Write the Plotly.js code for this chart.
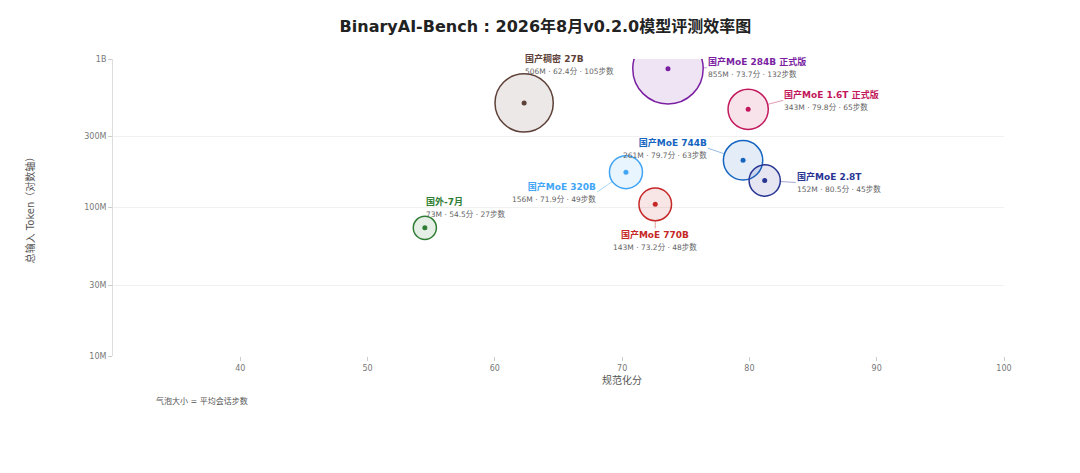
<!DOCTYPE html>
<html>
<head>
<meta charset="utf-8">
<script src="https://cdn.plot.ly/plotly-3.0.1.min.js"></script>
<style>
  html, body { margin: 0; padding: 0; background: #fff; }
  #chart { width: 1080px; height: 473px; }
</style>
</head>
<body>
<div id="chart"></div>
<script>
/** @type {typeof import("plotly.js-dist-min")} */
const Plotly = window.Plotly;

const names = ["国产稠密 27B", "国产MoE 284B 正式版", "国产MoE 1.6T 正式版", "国产MoE 744B",
               "国产MoE 2.8T", "国产MoE 320B", "国产MoE 770B", "国外-7月"];
// values printed in the labels
const scores = [62.4, 73.7, 79.8, 79.7, 80.5, 71.9, 73.2, 54.5];
const tokensM = [506, 855, 343, 261, 152, 156, 143, 73];
const steps = [105, 132, 65, 63, 45, 49, 48, 27];
// where the bubbles are drawn (nudged apart in the original chart)
const plotScore = [62.3, 73.6, 79.9, 79.5, 81.2, 70.3, 72.6, 54.5];
const plotTokensM = [506, 860, 458, 208, 152, 173, 105, 73];
const colors = ["#5d4037", "#7b1fa2", "#c2185b", "#1565c0", "#283593", "#42a5f5", "#c62828", "#2e7d32"];

const yTickVals = [1e7, 3e7, 1e8, 3e8, 1e9];
const yTickText = ["10M", "30M", "100M", "300M", "1B"];
const xTickVals = [40, 50, 60, 70, 80, 90, 100];

// label placement (pixel offsets from bubble centre)
const labelPos = [
    { ax: 0,   ay: -26, xanchor: "left",   yanchor: "bottom", align: "left",   line: false },
    { ax: 39,  ay: -1,  xanchor: "left",   yanchor: "middle", align: "left",   line: true },
    { ax: 35,  ay: -9,  xanchor: "left",   yanchor: "middle", align: "left",   line: true },
    { ax: -35, ay: -12, xanchor: "right",  yanchor: "middle", align: "right",  line: true },
    { ax: 31,  ay: 2,   xanchor: "left",   yanchor: "middle", align: "left",   line: true },
    { ax: -29, ay: 20,  xanchor: "right",  yanchor: "middle", align: "right",  line: true },
    { ax: 0,   ay: 24,  xanchor: "center", yanchor: "top",    align: "center", line: true },
    { ax: 0,   ay: -8,  xanchor: "left",   yanchor: "bottom", align: "left",   line: false }
];

const plotTokens = plotTokensM.map(t => t * 1e6);
const sizes = steps.map(s => 11 + 0.45 * s);

const FONT = "DejaVu Sans, Noto Sans CJK SC, sans-serif";

function hexToRgba(hex, a) {
    const r = parseInt(hex.slice(1, 3), 16);
    const g = parseInt(hex.slice(3, 5), 16);
    const b = parseInt(hex.slice(5, 7), 16);
    return `rgba(${r}, ${g}, ${b}, ${a})`;
}

const traceBubbles = {
    x: plotScore,
    y: plotTokens,
    mode: "markers",
    type: "scatter",
    hoverinfo: "skip",
    marker: {
        size: sizes,
        sizemode: "diameter",
        opacity: 1,
        color: colors.map(c => hexToRgba(c, 0.12)),
        line: { color: colors, width: 1.5 }
    },
    showlegend: false
};

const traceDots = {
    x: plotScore,
    y: plotTokens,
    mode: "markers",
    type: "scatter",
    hoverinfo: "skip",
    marker: { size: 5, color: colors, opacity: 1 },
    showlegend: false
};

const annotations = names.map((n, i) => {
    const p = labelPos[i];
    return {
        x: plotScore[i],
        y: Math.log10(plotTokens[i]),
        xref: "x",
        yref: "y",
        text: `<b>${n}</b><br><span style="font-size:7.5px;color:#666">${tokensM[i]}M · ${scores[i].toFixed(1)}分 · ${steps[i]}步数</span>`,
        font: { family: FONT, size: 9, color: colors[i] },
        showarrow: true,
        arrowhead: 0,
        arrowwidth: 0.8,
        arrowcolor: p.line ? hexToRgba(colors[i], 0.55) : "rgba(0,0,0,0)",
        standoff: sizes[i] / 2,
        ax: p.ax,
        ay: p.ay,
        xanchor: p.xanchor,
        yanchor: p.yanchor,
        align: p.align,
        borderpad: 0
    };
});

// x axis title sits right of centre in the original
annotations.push({
    x: (622 - 113) / (1004 - 113),
    y: (356 - 380) / (356 - 59),
    xref: "paper",
    yref: "paper",
    text: "规范化分",
    showarrow: false,
    font: { family: FONT, size: 10, color: "#555" },
    xanchor: "center",
    yanchor: "middle"
});

// footnote under the x axis
annotations.push({
    x: (154 - 113) / (1004 - 113),
    y: (356 - 401) / (356 - 59),
    xref: "paper",
    yref: "paper",
    text: "气泡大小 = 平均会话步数",
    showarrow: false,
    font: { family: FONT, size: 8, color: "#555" },
    xanchor: "left",
    yanchor: "middle"
});

const layout = {
    width: 1080,
    height: 473,
    margin: { l: 113, r: 76, t: 59, b: 117 },
    font: { family: FONT, color: "#666" },
    title: {
        text: "<b>BinaryAI-Bench : 2026年8月v0.2.0模型评测效率图</b>",
        font: { family: FONT, size: 16, color: "#222" },
        x: 0.505,
        xanchor: "center",
        y: 1 - 26 / 473,
        yanchor: "middle"
    },
    xaxis: {
        range: [30, 100],
        tickvals: xTickVals,
        tickfont: { size: 8, color: "#777" },
        ticks: "outside",
        ticklen: 4,
        tickcolor: "#ccc",
        showgrid: false,
        zeroline: false,
        showline: false
    },
    yaxis: {
        title: { text: "总输入 Token（对数轴）", font: { size: 10, color: "#555" }, standoff: 47 },
        type: "log",
        range: [7, 9],
        tickvals: yTickVals,
        ticktext: yTickText,
        tickfont: { size: 8, color: "#777" },
        ticks: "outside",
        ticklen: 4,
        tickcolor: "#ccc",
        gridcolor: "#f0f0f0",
        showline: true,
        linecolor: "#ddd",
        zeroline: false
    },
    annotations: annotations,
    paper_bgcolor: "#ffffff",
    plot_bgcolor: "#ffffff"
};

Plotly.newPlot("chart", [traceBubbles, traceDots], layout, { displayModeBar: false, staticPlot: true });
</script>
</body>
</html>
